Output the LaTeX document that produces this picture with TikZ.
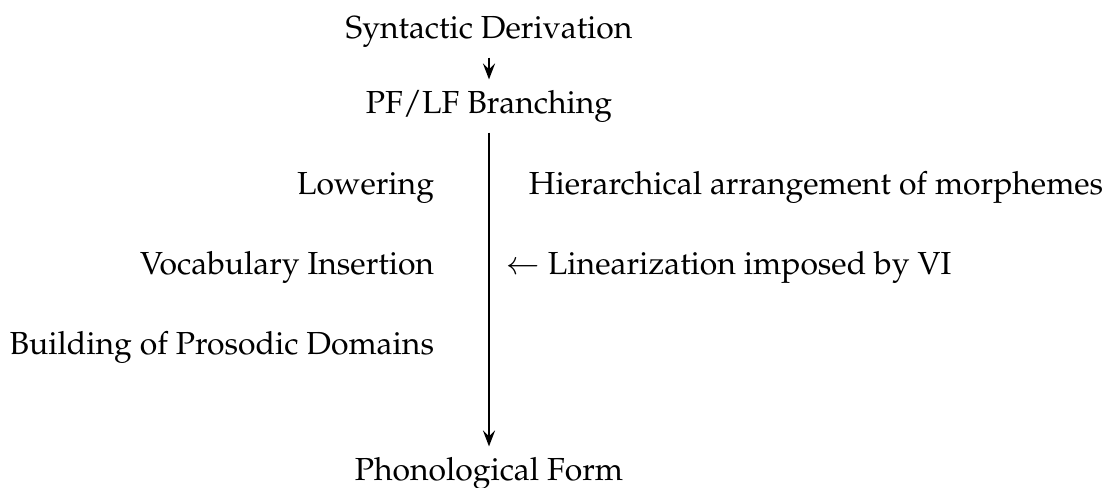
\documentclass[tikz,border=0pt]{standalone}
\usepackage[T1]{fontenc}
\usepackage{mathpazo}
\usepackage{tikz}
\usetikzlibrary{positioning}
\usetikzlibrary{arrows.meta}
\tikzset{ stage/.style = {inner sep=3pt, anchor=base} }
\tikzset{ leftlab/.style = {inner sep=0pt, anchor=base east} }
\tikzset{ rightlab/.style = {inner sep=0pt, anchor=base west} }
\tikzset{ >={Stealth[length=5pt, width=3.8pt, inset=1.8pt]} }

\begin{document}
\begin{tikzpicture}[x=0.3135pt, y=-0.3135pt, semithick]
                \useasboundingbox (0,0) rectangle (1105,487);
                \node [stage] (SD) at (489, 38) {Syntactic Derivation};
                \node [stage] (PF) at (489, 113) {PF/LF Branching};
                \node [stage] (PH) at (489, 480) {Phonological Form};
                \node [leftlab] (LO) at (435, 194) {Lowering};
                \node [leftlab] (VI) at (435, 274) {Vocabulary Insertion};
                \node [leftlab] (BP) at (435, 354) {Building of Prosodic Domains};
                \node [rightlab] (HA) at (528, 194) {Hierarchical arrangement of morphemes};
                \node [rightlab] (LI) at (505, 274) {$\leftarrow$ Linearization imposed by VI};
                \draw[->] (SD) to (PF);
                \draw[->] (PF) to (PH);
        \end{tikzpicture}
\end{document}
